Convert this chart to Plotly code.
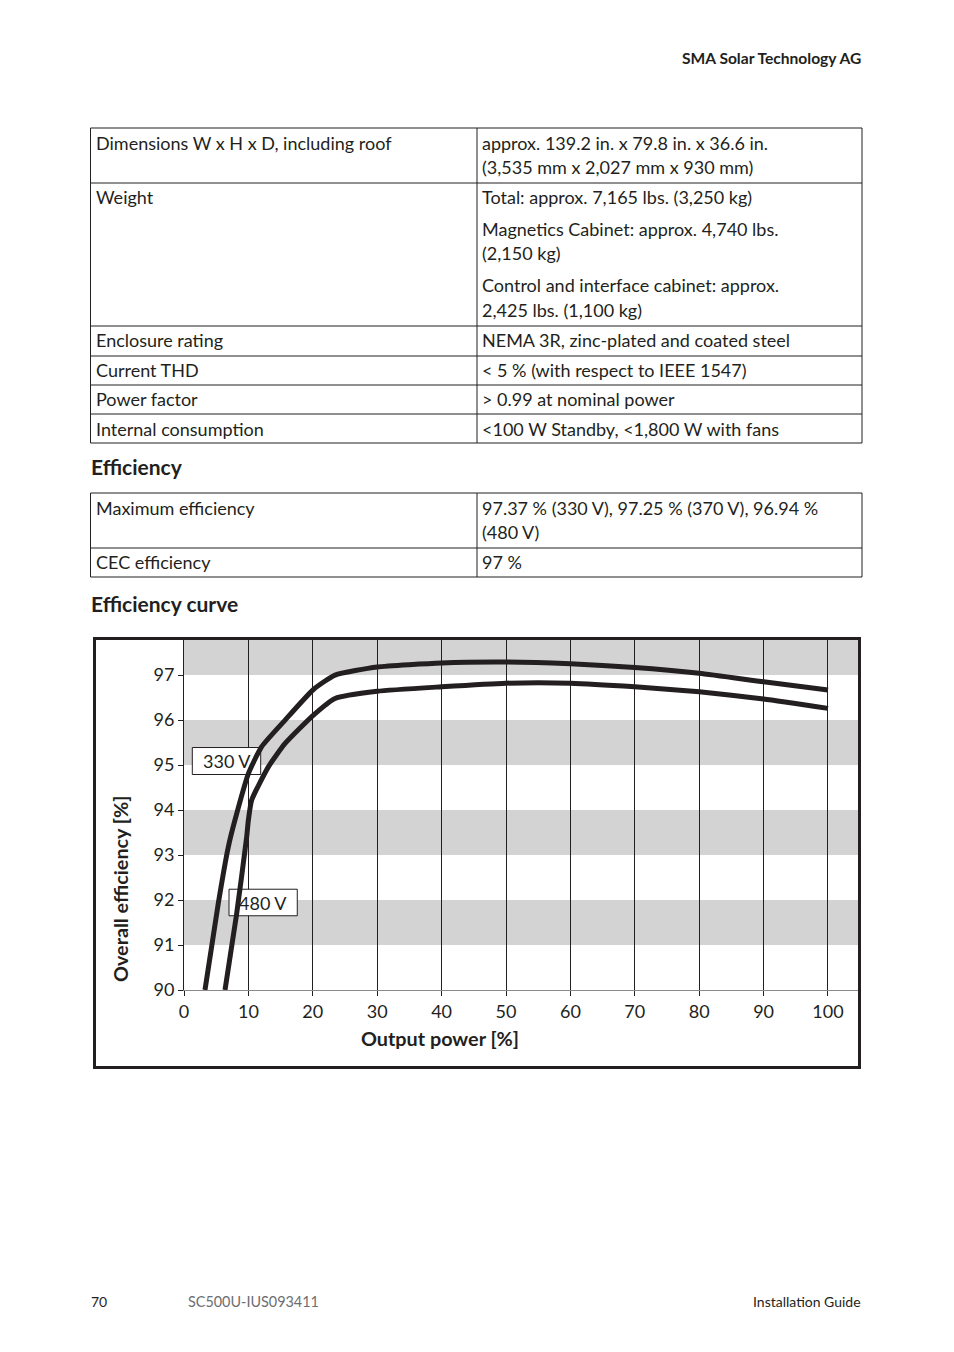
import plotly.graph_objects as go

W, H = 954, 1352
FONT = "Lato"
INK = "#231f20"

# ---------------- chart data ----------------
power_330 = [3.26, 5.33, 6.88, 7.92, 10.0, 12.06, 15.7, 20.1, 23.45, 30, 40, 50, 60, 70, 80, 90, 100]
eff_330 = [90.0, 91.93, 93.18, 93.78, 94.81, 95.41, 96.0, 96.68, 97.0, 97.18, 97.27, 97.29, 97.25, 97.17, 97.04, 96.85, 96.67]
power_480 = [6.37, 8.18, 9.73, 10.0, 10.5, 13.1, 15.7, 20.1, 23.45, 30, 40, 50, 60, 70, 80, 90, 100]
eff_480 = [90.0, 91.7, 93.4, 93.78, 94.22, 94.96, 95.48, 96.11, 96.48, 96.64, 96.74, 96.82, 96.82, 96.74, 96.63, 96.47, 96.26]
series_names = ["330 V", "480 V"]
x_ticks = [0, 10, 20, 30, 40, 50, 60, 70, 80, 90, 100]
y_ticks = [90, 91, 92, 93, 94, 95, 96, 97]
gray_bands = [(91, 92), (93, 94), (95, 96), (97, 98)]
label_boxes = [(1.29, 11.91, 94.79, 95.39), (6.99, 17.59, 91.65, 92.24)]
x_range = [0, 104.66]
y_range = [90, 97.78]

# ---------------- page text ----------------
header_text = "SMA Solar Technology AG"
table1_left = ["Dimensions W x H x D, including roof", "Weight", "Enclosure rating",
               "Current THD", "Power factor", "Internal consumption"]
table1_right = [
    ["approx. 139.2 in. x 79.8 in. x 36.6 in.", "(3,535 mm x 2,027 mm x 930 mm)"],
    ["Total: approx. 7,165 lbs. (3,250 kg)", "Magnetics Cabinet: approx. 4,740 lbs.",
     "(2,150 kg)", "Control and interface cabinet: approx.", "2,425 lbs. (1,100 kg)"],
    ["NEMA 3R, zinc-plated and coated steel"],
    ["< 5 % (with respect to IEEE 1547)"],
    ["> 0.99 at nominal power"],
    ["<100 W Standby, <1,800 W with fans"],
]
table1_right_y = [[143, 167], [197, 229, 253, 285, 310], [340], [370], [399], [429]]
table1_left_y = [143, 197, 340, 370, 399, 429]
table1_rows = [128, 183, 326, 356, 385, 414, 443]
table2_left = ["Maximum efficiency", "CEC efficiency"]
table2_right = [["97.37 % (330 V), 97.25 % (370 V), 96.94 %", "(480 V)"], ["97 %"]]
table2_right_y = [[508, 532], [562]]
table2_left_y = [508, 562]
table2_rows = [493, 548, 577]
headings = [("Efficiency", 466), ("Efficiency curve", 604)]
footer = [("70", 90, "left", INK, 14), ("SC500U-IUS093411", 187, "left", "#6d6e71", 14.4),
          ("Installation Guide", 862, "right", INK, 14)]


def px(x):
    return x / W


def py(y):
    return 1 - y / H


fig = go.Figure()

for name, xs, ys in zip(series_names, [power_330, power_480], [eff_330, eff_480]):
    fig.add_trace(go.Scatter(x=xs, y=ys, mode="lines", name=name,
                             line=dict(color=INK, width=5, shape="spline", smoothing=0.5),
                             showlegend=False, hoverinfo="skip"))

shapes = []
for lo, hi in gray_bands:
    shapes.append(dict(type="rect", xref="x domain", yref="y", x0=0, x1=1,
                       y0=lo, y1=min(hi, y_range[1]), fillcolor="#d3d3d3",
                       line=dict(width=0), layer="below"))
for x0, x1, y0, y1 in label_boxes:
    shapes.append(dict(type="rect", xref="x", yref="y", x0=x0, x1=x1, y0=y0, y1=y1,
                       fillcolor="white", line=dict(color=INK, width=1), layer="between"))
shapes.append(dict(type="rect", xref="paper", yref="paper", x0=px(94.5), x1=px(859.5),
                   y0=py(1067.5), y1=py(638.5), line=dict(color=INK, width=3)))


def table(rows, x_left=90.5, x_mid=477, x_right=862):
    out = []
    for r in rows:
        out.append(dict(type="line", xref="paper", yref="paper", x0=px(x_left), x1=px(x_right),
                        y0=py(r), y1=py(r), line=dict(color=INK, width=1)))
    for xv in (x_left, x_mid, x_right):
        out.append(dict(type="line", xref="paper", yref="paper", x0=px(xv), x1=px(xv),
                        y0=py(rows[0]), y1=py(rows[-1]), line=dict(color=INK, width=1)))
    return out


shapes += table(table1_rows)
shapes += table(table2_rows)

annotations = []


def txt(text, x, y, size=18, anchor="left", color=INK, bold=False):
    annotations.append(dict(text=f"<b>{text}</b>" if bold else text, x=px(x), y=py(y),
                            xref="paper", yref="paper", xanchor=anchor, yanchor="middle",
                            showarrow=False, borderpad=0,
                            font=dict(family=FONT, size=size, color=color)))


txt(header_text, 862, 58, size=15.6, anchor="right", bold=True)
for t, yv in zip(table1_left, table1_left_y):
    txt(t, 95, yv)
for lines, ys in zip(table1_right, table1_right_y):
    for t, yv in zip(lines, ys):
        txt(t, 481, yv)
for t, yv in zip(table2_left, table2_left_y):
    txt(t, 95, yv)
for lines, ys in zip(table2_right, table2_right_y):
    for t, yv in zip(lines, ys):
        txt(t, 481, yv)
for t, yv in headings:
    txt(t, 90, yv, size=21, bold=True)
for t, xv, anc, col, sz in footer:
    txt(t, xv, 1301, size=sz, anchor=anc, color=col)

for name, (x0, x1, y0, y1) in zip(series_names, label_boxes):
    annotations.append(dict(text=name, x=(x0 + x1) / 2, y=(y0 + y1) / 2, xref="x", yref="y",
                            showarrow=False, xanchor="center", yanchor="middle", borderpad=0,
                            font=dict(family=FONT, size=18, color=INK)))
annotations.append(dict(text="<b>Output power [%]</b>", x=px(440), y=py(1038), xref="paper",
                        yref="paper", showarrow=False, xanchor="center", yanchor="middle",
                        font=dict(family=FONT, size=19.8, color=INK)))
annotations.append(dict(text="<b>Overall efficiency [%]</b>", x=px(120), y=py(889), xref="paper",
                        yref="paper", showarrow=False, xanchor="center", yanchor="middle",
                        textangle=-90, font=dict(family=FONT, size=19.8, color=INK)))

fig.update_layout(
    width=W, height=H, margin=dict(l=0, r=0, t=0, b=0),
    paper_bgcolor="white", plot_bgcolor="white",
    shapes=shapes, annotations=annotations, showlegend=False,
    xaxis=dict(domain=[px(184), px(858)], range=x_range, tickvals=x_ticks,
               showgrid=True, gridcolor=INK, gridwidth=1, zeroline=False,
               showline=True, linecolor="#8a8a8a", linewidth=1,
               ticks="outside", ticklen=5, tickcolor=INK, automargin=False,
               tickfont=dict(family=FONT, size=18, color=INK), fixedrange=True),
    yaxis=dict(domain=[py(990), py(640)], range=y_range, tickvals=y_ticks,
               showgrid=False, zeroline=False, showline=True, linecolor=INK, linewidth=1,
               ticks="outside", ticklen=5, tickcolor=INK, automargin=False,
               tickfont=dict(family=FONT, size=18, color=INK), fixedrange=True),
)

fig.write_html(
    "out.html",
    config={"displayModeBar": False},
    post_script="document.body.style.margin='0';document.body.style.overflow='hidden';",
)
